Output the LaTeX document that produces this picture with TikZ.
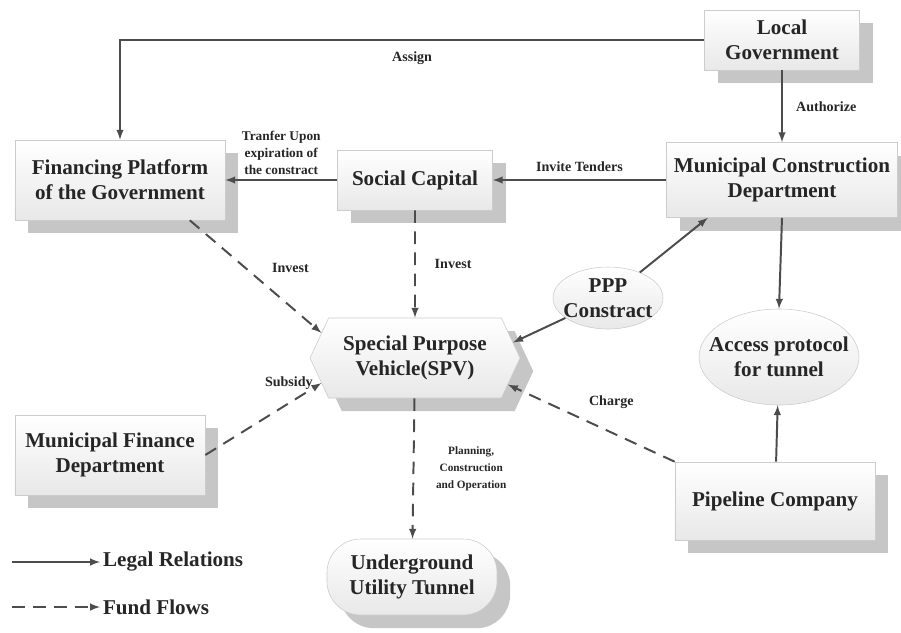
\documentclass[tikz,border=0pt]{standalone}
\usepackage{fontspec}
\setmainfont{Liberation Serif}
\usetikzlibrary{shapes.geometric,shapes.symbols,shadows}

\begin{document}
\begin{tikzpicture}[
    x=0.025cm, y=-0.025cm,
    font=\bfseries, text=black!85,
    shade/.style={draw=gray!40, top color=white, bottom color=gray!18},
    shad/.style={drop shadow={shadow xshift=0.33cm, shadow yshift=-0.33cm, fill=gray!45, opacity=1}},
    box/.style={rectangle, shade, shad, align=center, font=\fontsize{15}{18}\selectfont\bfseries},
    hexa/.style={signal, signal to=west and east, signal pointer angle=130, shade, shad, align=center, minimum width=5.25cm, minimum height=2cm, font=\fontsize{15}{18}\selectfont\bfseries},
    oval/.style={ellipse, shade, align=center, inner sep=0pt, font=\fontsize{15}{18}\selectfont\bfseries},
    tunnel/.style={rectangle, rounded corners=24pt, shade, shad, align=center, minimum width=4.25cm, minimum height=1.9cm, font=\fontsize{15}{18}\selectfont\bfseries},
    lab/.style={font=\fontsize{10}{12}\selectfont\bfseries, align=center},
    small/.style={font=\fontsize{9.5}{12}\selectfont\bfseries, align=center, inner sep=1pt},
    legend/.style={font=\fontsize{15}{18}\selectfont\bfseries, inner sep=2pt},
    arrow/.style={line width=1.4pt, draw=black!70, ->, >=latex},
    fund/.style={arrow, dash pattern=on 9pt off 6pt}
]
    \useasboundingbox (0,0) rectangle (901,632);

    % Government level
    \node [box, minimum width=3.875cm, minimum height=1.5cm] (lgov) at (782,40) {Local\\Government};
    \node [box, minimum width=5.775cm, minimum height=1.875cm] (mcd) at (782,180) {Municipal Construction\\Department};
    \node [box, minimum width=3.875cm, minimum height=1.5cm] (soc) at (415,180) {Social Capital};
    \node [box, minimum width=5.25cm, minimum height=2cm] (fin) at (120,180) {Financing Platform\\of the Government};

    % Middle level
    \node [hexa] (spv) at (415,358) {Special Purpose\\Vehicle(SPV)};
    \node [oval, minimum width=2.75cm, minimum height=1.55cm] (ppp) at (608,298) {PPP\\\makebox[40pt]{Constract}};
    \node [oval, minimum width=4cm, minimum height=2.4cm] (acc) at (779,357) {\makebox[60pt]{Access protocol}\\for tunnel};

    % Bottom level
    \node [box, minimum width=4.75cm, minimum height=2cm] (mfin) at (110,455) {Municipal Finance\\Department};
    \node [box, minimum width=5cm, minimum height=1.95cm] (pipe) at (775,501) {Pipeline Company};
    \node [tunnel] (tun) at (412,577) {Underground\\Utility Tunnel};

    % Legal relations
    \draw [arrow] (lgov.west) -| node [pos=0.25, below=4pt, lab] {Assign} (fin.north);
    \draw [arrow] (lgov) -- node [right=6pt, lab] {Authorize} (mcd);
    \draw [arrow] (mcd) -- node [above=2pt, lab] {Invite Tenders} (soc);
    \draw [arrow] (soc) -- node [above=2pt, small] {Tranfer Upon\\expiration of\\the constract} (fin);
    \draw [arrow] (ppp) -- (mcd.207);
    \draw [arrow] (ppp) -- (spv.9);
    \draw [arrow] (mcd.south) -- (acc.north);
    \draw [arrow] (pipe) -- (acc);

    % Fund flows
    \draw [fund] (fin.-30) -- node [pos=0.55, above right=3pt, lab] {Invest} (spv.165);
    \draw [fund] (soc) -- node [right=10pt, lab] {Invest} (spv);
    \draw [fund] (mfin.east) -- node [pos=0.72, above=6pt, lab] {Subsidy} (spv.195);
    \draw [fund] (pipe.north west) -- node [pos=0.38, above=13pt, lab] {Charge} (spv.-16);
    \draw [fund] (spv) -- node [right=12pt, font=\fontsize{8}{12}\selectfont\bfseries, align=center] {Planning,\\Construction\\and Operation} (tun);

    % Legend
    \coordinate (legals) at (12,562);
    \coordinate (funds) at (12,607);
    \node [legend, anchor=west] (legal) at (100,562) {Legal Relations};
    \node [legend, anchor=west] (fundl) at (100,607) {Fund Flows};
    \draw [arrow] (legals) -- (legal.west);
    \draw [fund] (funds) -- (fundl.west);
\end{tikzpicture}
\end{document}
